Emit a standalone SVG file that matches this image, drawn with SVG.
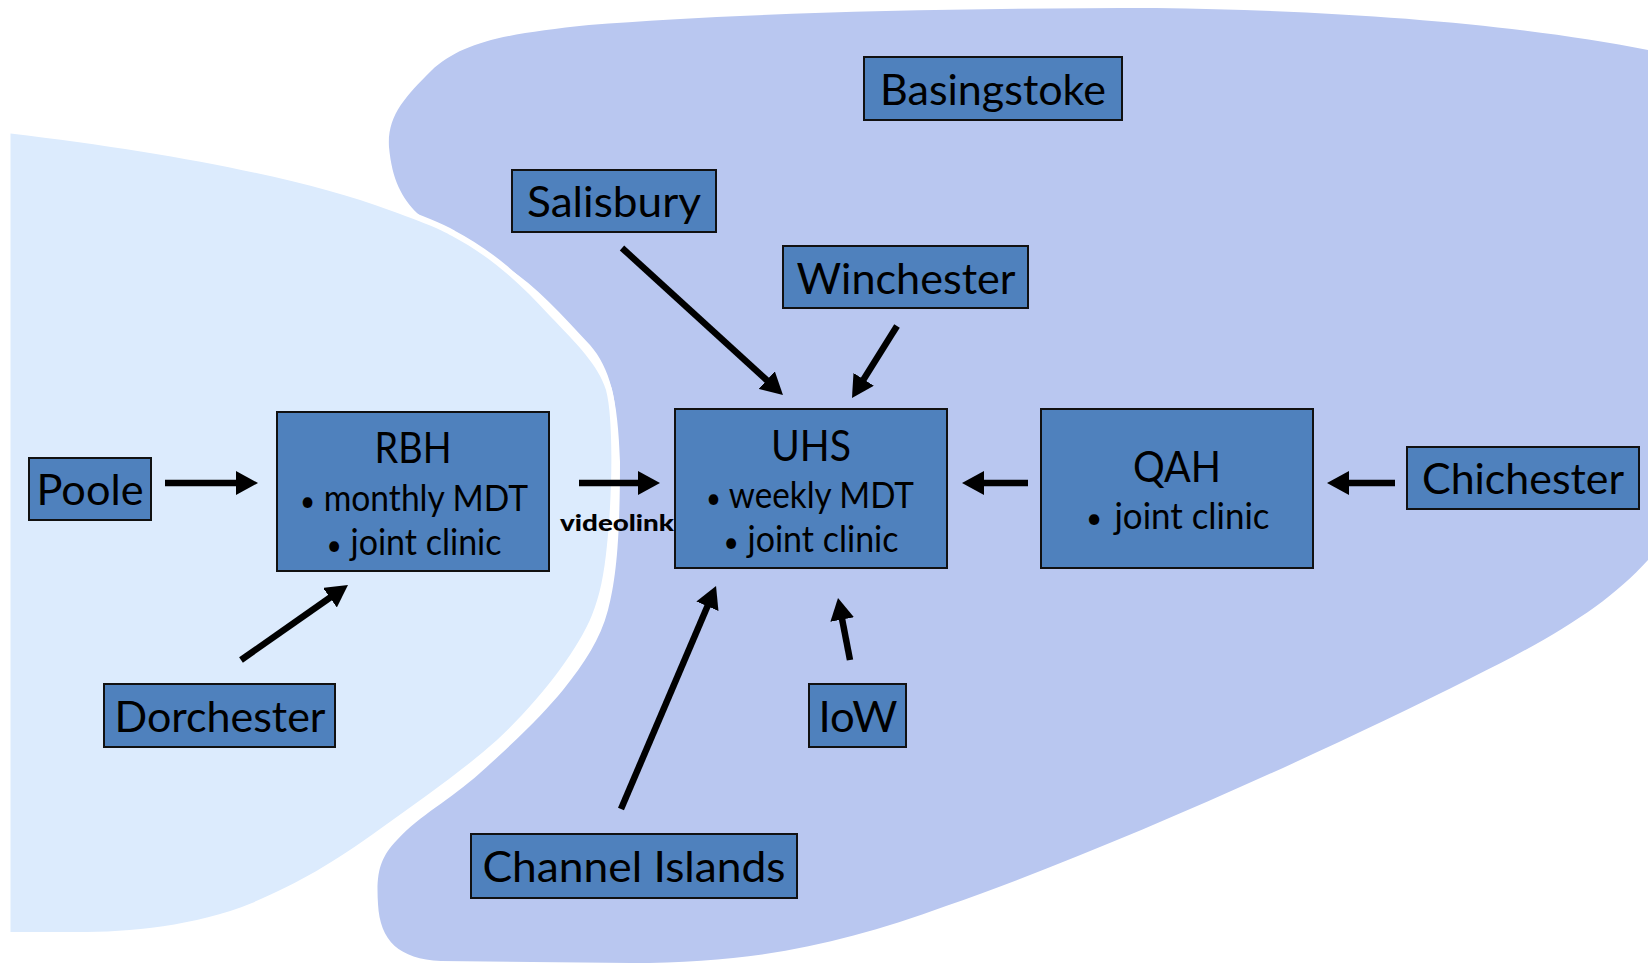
<svg xmlns="http://www.w3.org/2000/svg" width="1648" height="963" viewBox="0 0 1648 963">
<defs>
<style>
.box{fill:#4F81BD;stroke:#111;stroke-width:2}
.t{font-family:Lato,"Open Sans","Noto Sans",sans-serif;fill:#000;text-anchor:middle}
.big{font-size:43px}
.mid{font-size:36px}
.bul{font-size:28px}
.lbl{font-family:Lato,"Open Sans",sans-serif;font-weight:900;font-size:23px;fill:#000}
.arr{stroke:#000;stroke-width:6.5;fill:none;marker-end:url(#ah)}
</style>
<marker id="ah" markerUnits="userSpaceOnUse" viewBox="0 0 24 24" markerWidth="24" markerHeight="24" refX="2" refY="12" orient="auto">
<path d="M0,0 L22,12 L0,24 Z" fill="#000"/>
</marker>
</defs>
<rect width="1648" height="963" fill="#fff"/>
<g id="regions">
<path id="region-east" fill="#B9C7F0" d="M 389,147 C 387,116 405,97 431,71 C 462,42 504,34 589,25 C 736,13 946,8 1156,8 C 1366,11 1524,26 1648,50 L 1648,560 C 1608,604 1556,636 1471,678 C 1314,757 1104,851 946,906 C 841,944 757,963 631,963 L 441,961 C 399,959 380,941 378,904 C 376,872 380,858 397,840 C 420,815 450,800 480,773 C 520,737 545,712 563,690 C 585,662 600,640 608,610 C 616,580 620,540 620,462 C 618,399 610,368 590,345 C 560,312 530,280 500,263 C 475,250 460,242 450,235 C 435,226 425,220 417,213 C 402,198 392,180 389,147 Z"/>
<path id="region-west" fill="#DCEBFD" stroke="#fff" stroke-width="12" paint-order="stroke" d="M 10.5,133.5 C 168,152 305,179 389,210 C 420,221 440,229 452,236 C 490,256 520,283 550,316 C 578,345 598,365 606,390 C 614,420 612,500 607,545 C 604,575 600,595 592,615 C 578,650 540,700 497,740 C 460,773 420,800 380,829 C 330,865 300,882 252,903 C 190,928 120,933 63,932 L 10.5,932 Z"/>
</g>
<g id="connectors">
<line class="arr" x1="165" y1="483" x2="238" y2="483"/>
<line class="arr" x1="579" y1="483" x2="640" y2="483"/>
<line class="arr" x1="1028" y1="483" x2="982" y2="483"/>
<line class="arr" x1="1395" y1="483" x2="1347" y2="483"/>
<line class="arr" x1="241" y1="660" x2="331.6" y2="596.5"/>
<line class="arr" x1="622" y1="248" x2="768.2" y2="381.5"/>
<line class="arr" x1="897" y1="326" x2="862.6" y2="381"/>
<line class="arr" x1="621" y1="809" x2="708.2" y2="604.4"/>
<line class="arr" x1="850" y1="660" x2="841.8" y2="617.6"/>
<text class="lbl" x="560" y="531" textLength="114" lengthAdjust="spacingAndGlyphs">videolink</text>
</g>
<g id="basingstoke">
<rect class="box" x="864" y="57" width="258" height="63"/>
<text class="t big" x="993" y="105" textLength="226" lengthAdjust="spacingAndGlyphs">Basingstoke</text>
</g>
<g id="salisbury">
<rect class="box" x="512" y="170" width="204" height="62"/>
<text class="t big" x="614" y="217" textLength="174" lengthAdjust="spacingAndGlyphs">Salisbury</text>
</g>
<g id="winchester">
<rect class="box" x="783" y="246" width="245" height="62"/>
<text class="t big" x="906" y="294" textLength="219" lengthAdjust="spacingAndGlyphs">Winchester</text>
</g>
<g id="rbh">
<rect class="box" x="277" y="412" width="272" height="159"/>
<text class="t big" x="413" y="463" textLength="77" lengthAdjust="spacingAndGlyphs">RBH</text>
<text class="t mid" x="414" y="511" textLength="228" lengthAdjust="spacingAndGlyphs"><tspan class="bul">•</tspan> monthly MDT</text>
<text class="t mid" x="414" y="555" textLength="175" lengthAdjust="spacingAndGlyphs"><tspan class="bul">•</tspan> joint clinic</text>
</g>
<g id="uhs">
<rect class="box" x="675" y="409" width="272" height="159"/>
<text class="t big" x="811" y="461" textLength="80" lengthAdjust="spacingAndGlyphs">UHS</text>
<text class="t mid" x="810" y="508" textLength="208" lengthAdjust="spacingAndGlyphs"><tspan class="bul">•</tspan> weekly MDT</text>
<text class="t mid" x="811" y="552" textLength="175" lengthAdjust="spacingAndGlyphs"><tspan class="bul">•</tspan> joint clinic</text>
</g>
<g id="qah">
<rect class="box" x="1041" y="409" width="272" height="159"/>
<text class="t big" x="1177" y="482" textLength="88" lengthAdjust="spacingAndGlyphs">QAH</text>
<text class="t bul" x="1094" y="528">•</text>
<text class="t mid" x="1192" y="529" textLength="155" lengthAdjust="spacingAndGlyphs">joint clinic</text>
</g>
<g id="chichester">
<rect class="box" x="1407" y="447" width="232" height="62"/>
<text class="t big" x="1523" y="494" textLength="202" lengthAdjust="spacingAndGlyphs">Chichester</text>
</g>
<g id="poole">
<rect class="box" x="29" y="458" width="122" height="62"/>
<text class="t big" x="90" y="505" textLength="107" lengthAdjust="spacingAndGlyphs">Poole</text>
</g>
<g id="dorchester">
<rect class="box" x="104" y="684" width="231" height="63"/>
<text class="t big" x="220" y="732" textLength="211" lengthAdjust="spacingAndGlyphs">Dorchester</text>
</g>
<g id="iow">
<rect class="box" x="809" y="684" width="97" height="63"/>
<text class="t big" x="858" y="732" textLength="79" lengthAdjust="spacingAndGlyphs">IoW</text>
</g>
<g id="channel-islands">
<rect class="box" x="471" y="834" width="326" height="64"/>
<text class="t big" x="634" y="882" textLength="303" lengthAdjust="spacingAndGlyphs">Channel Islands</text>
</g>
</svg>
